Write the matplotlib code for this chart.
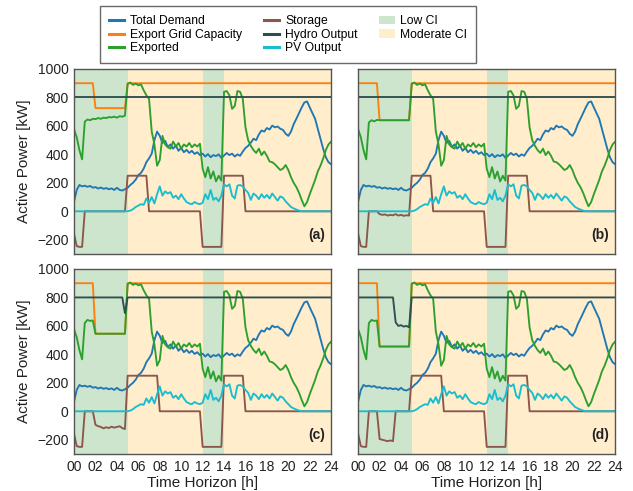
import numpy as np
import matplotlib
matplotlib.use("Agg")
import matplotlib.pyplot as plt
from matplotlib.patches import Patch
from matplotlib.lines import Line2D

plt.rcParams["font.family"] = ["Liberation Sans", "DejaVu Sans"]

# ---------------------------------------------------------------- data
# 15-minute resolution, 00:00 .. 24:00 (97 samples)
hours = np.arange(97) * 0.25

total_demand = [
    70, 150, 185, 175,      # 00h
    180, 172, 178, 166,     # 01h
    170, 160, 167, 158,     # 02h
    163, 155, 161, 150,     # 03h
    165, 150, 146, 155,     # 04h
    165, 185, 200, 222,     # 05h
    255, 270, 300, 345,     # 06h
    372, 405, 500, 560,     # 07h
    530, 480, 495, 452,     # 08h
    470, 440, 462, 425,     # 09h
    445, 415, 432, 410,     # 10h
    425, 403, 415, 395,     # 11h
    405, 385, 402, 380,     # 12h
    395, 388, 400, 375,     # 13h
    392, 410, 395, 405,     # 14h
    385, 400, 390, 420,     # 15h
    445, 460, 482, 510,     # 16h
    500, 540, 568, 560,     # 17h
    585, 575, 602, 590,     # 18h
    596, 580, 572, 545,     # 19h
    530, 560, 612, 650,     # 20h
    690, 730, 765, 772,     # 21h
    730, 690, 650, 580,     # 22h
    510, 440, 380, 345,     # 23h
    330]                    # 24h

pv_output = [
    0, 0, 0, 0,             # 00h
    0, 0, 0, 0,             # 01h
    0, 0, 0, 0,             # 02h
    0, 0, 0, 0,             # 03h
    0, 0, 0, 0,             # 04h
    0, 5, 15, 30,           # 05h
    40, 50, 45, 90,         # 06h
    60, 100, 55, 120,       # 07h
    175, 110, 140, 125,     # 08h
    135, 95, 110, 85,       # 09h
    120, 90, 65, 55,        # 10h
    50, 65, 55, 50,         # 11h
    60, 120, 85, 150,       # 12h
    80, 95, 70, 110,        # 13h
    190, 175, 190, 110,     # 14h
    90, 180, 185, 175,      # 15h
    150, 130, 80, 125,      # 16h
    110, 85, 120, 95,       # 17h
    115, 90, 125, 100,      # 18h
    75, 105, 95, 70,        # 19h
    50, 30, 20, 12,         # 20h
    5, 0, 0, 0,             # 21h
    0, 0, 0, 0,             # 22h
    0, 0, 0, 0,             # 23h
    0]                      # 24h

# exported power from 05:00 to 24:00 (same in every scenario)
exported_day = [
    895, 905, 888, 898,     # 05h
    885, 892, 850, 815,     # 06h
    790, 560, 470, 320,     # 07h
    360, 530, 470, 450,     # 08h
    440, 490, 455, 480,     # 09h
    440, 470, 455, 480,     # 10h
    450, 470, 455, 475,     # 11h
    300, 240, 310, 230,     # 12h
    280, 210, 250, 215,     # 13h
    840, 845, 815, 720,     # 14h
    740, 845, 840, 790,     # 15h
    590, 500, 460, 430,     # 16h
    410, 440, 395, 420,     # 17h
    390, 350, 345, 330,     # 18h
    310, 290, 300, 325,     # 19h
    290, 240, 200, 170,     # 20h
    130, 80, 35, 65,        # 21h
    120, 170, 220, 280,     # 22h
    320, 370, 430, 470,     # 23h
    490]                    # 24h

# exported power from 00:00 to 04:45 for each scenario
exported_night_a = [575, 520, 430, 365, 630, 645, 640, 650, 648, 655,
                    650, 658, 655, 662, 660, 665, 658, 668, 665, 672]
exported_night_b = [575, 520, 430, 365, 625, 640, 632, 642, 640, 640,
                    640, 640, 640, 640, 640, 640, 640, 640, 640, 640]
exported_night_c = [575, 520, 430, 365, 620, 642, 635, 638, 545, 545,
                    545, 545, 545, 545, 545, 545, 545, 545, 545, 545]
exported_night_d = [575, 520, 430, 365, 620, 642, 635, 638, 455, 455,
                    455, 455, 455, 455, 455, 455, 455, 455, 455, 455]

# export grid capacity: nominal, reduced between 02:00 and 05:00
capacity_nominal = 900
capacity_reduced = [725, 640, 545, 455]
capacity_reduced_window = (2.0, 5.0)

# storage from 00:00 to 04:45 for each scenario
storage_night_a = [-160, -245, -250, -250, 0, 0, 0, 0, 0, 0,
                   0, 0, 0, 0, 0, 0, 0, 0, 0, 0]
storage_night_b = [-160, -245, -250, -250, 0, 0, 0, 0, -20, -25,
                   -22, -30, -25, -28, -20, -30, -25, -32, -28, -30]
storage_night_c = [-160, -245, -250, -250, 0, 0, 0, 0, -95, -105,
                   -110, -120, -112, -118, -108, -115, -110, -105, -118, -125]
storage_night_d = [-160, -245, -250, -250, 0, 0, 0, 0, -195, -200,
                   -205, -210, -205, -210, 0, 0, 0, 0, 0, 0]

# storage from 05:00 to 24:00 (discharge block until 07:00 or 08:00)
storage_day_short = ([250] * 8 + [0] * 20 + [-250] * 8 + [250] * 8 + [0] * 33)
storage_day_long = ([250] * 12 + [0] * 16 + [-250] * 8 + [250] * 8 + [0] * 33)

# hydro output from 00:00 to 04:45 for each scenario, then rated output
hydro_rated = 800
hydro_night_a = [800] * 20
hydro_night_b = [800] * 20
hydro_night_c = [800] * 19 + [690]
hydro_night_d = [800] * 14 + [625, 600, 605, 595, 600, 590]

# carbon intensity periods
low_ci_periods = [(0, 5), (12, 14)]
moderate_ci_periods = [(5, 12), (14, 24)]

panel_tags = ["(a)", "(b)", "(c)", "(d)"]
exported_night = [exported_night_a, exported_night_b, exported_night_c, exported_night_d]
storage_night = [storage_night_a, storage_night_b, storage_night_c, storage_night_d]
storage_day = [storage_day_short, storage_day_short, storage_day_long, storage_day_long]
hydro_night = [hydro_night_a, hydro_night_b, hydro_night_c, hydro_night_d]

tick_hours = list(range(0, 25, 2))
tick_labels = [f"{h:02d}" for h in tick_hours]
y_ticks = [-200, 0, 200, 400, 600, 800, 1000]

# ---------------------------------------------------------------- style
c_demand = "#1f77b4"
c_capacity = "#ff7f0e"
c_exported = "#2ca02c"
c_storage = "#8c564b"
c_hydro = "#2f4f4f"
c_pv = "#17becf"
c_low = (0.0, 0.5, 0.0, 0.2)
c_mod = (1.0, 0.647, 0.0, 0.2)
lw = 1.35

fig = plt.figure(figsize=(6.33, 4.91), dpi=100)
axes = fig.subplots(2, 2, sharex=True, sharey=True)
fig.subplots_adjust(left=0.117, right=0.972, top=0.8595, bottom=0.0754,
                    wspace=0.105, hspace=0.081)

for k, ax in enumerate(axes.flat):
    for a, b in low_ci_periods:
        ax.axvspan(a, b, color=c_low, lw=0)
    for a, b in moderate_ci_periods:
        ax.axvspan(a, b, color=c_mod, lw=0)

    exported = np.array(exported_night[k] + exported_day, dtype=float)
    storage = np.array(storage_night[k] + storage_day[k], dtype=float)
    hydro = np.array(hydro_night[k] + [hydro_rated] * 77, dtype=float)
    lo, hi = capacity_reduced_window
    capacity = np.where((hours >= lo) & (hours < hi),
                        capacity_reduced[k], capacity_nominal)

    ax.plot(hours, total_demand, color=c_demand, lw=lw)
    ax.plot(hours, capacity, color=c_capacity, lw=lw)
    ax.plot(hours, exported, color=c_exported, lw=lw)
    ax.plot(hours, storage, color=c_storage, lw=lw)
    ax.plot(hours, hydro, color=c_hydro, lw=lw)
    ax.plot(hours, pv_output, color=c_pv, lw=lw)

    ax.set_xlim(0, 24)
    ax.set_ylim(-300, 1000)
    ax.set_xticks(tick_hours)
    ax.set_xticklabels(tick_labels)
    ax.set_yticks(y_ticks)
    ax.tick_params(length=0, labelsize=10, pad=4, colors="#222222")
    for s in ax.spines.values():
        s.set_color("#555555")
        s.set_linewidth(1.0)
    ax.text(0.975, 0.1, panel_tags[k], transform=ax.transAxes, ha="right",
            va="center", fontsize=10, fontweight="bold", color="#222222")

for ax in axes[:, 0]:
    ax.set_ylabel("Active Power [kW]", fontsize=11, color="#222222", labelpad=4)
for ax in axes[1, :]:
    ax.set_xlabel("Time Horizon [h]", fontsize=11, color="#222222", labelpad=2)

handles = [
    Line2D([], [], color=c_demand, lw=2.2),
    Line2D([], [], color=c_capacity, lw=2.2),
    Line2D([], [], color=c_exported, lw=2.2),
    Line2D([], [], color=c_storage, lw=2.2),
    Line2D([], [], color=c_hydro, lw=2.2),
    Line2D([], [], color=c_pv, lw=2.2),
    Patch(facecolor=c_low, edgecolor="none"),
    Patch(facecolor=c_mod, edgecolor="none"),
]
labels = ["Total Demand", "Export Grid Capacity", "Exported", "Storage",
          "Hydro Output", "PV Output", "Low CI", "Moderate CI"]
leg = fig.legend(handles, labels, loc="center", bbox_to_anchor=(0.455, 0.929),
                 ncol=3, fontsize=8.7, frameon=True, fancybox=False,
                 edgecolor="#444444", handlelength=1.3, handletextpad=0.45,
                 columnspacing=1.8, labelspacing=0.12, borderpad=0.75)
leg.get_frame().set_linewidth(1.0)

fig.savefig("out.png", dpi=100)
